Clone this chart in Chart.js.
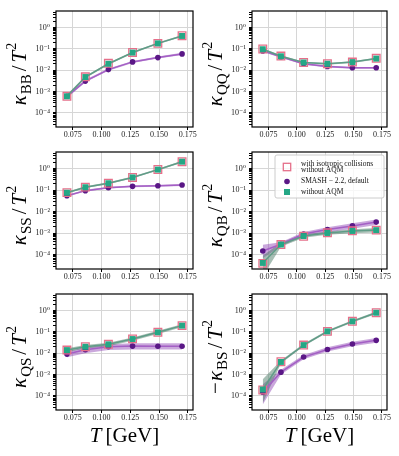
<!DOCTYPE html>
<html>
<head>
<meta charset="utf-8">
<script src="https://cdn.jsdelivr.net/npm/chart.js@4.4.0/dist/chart.umd.min.js"></script>
<style>
  html, body { margin: 0; padding: 0; background: #fff; }
  #wrap { position: relative; width: 399px; height: 456px; overflow: hidden; }
  #wrap canvas { position: absolute; }
</style>
</head>
<body>
<div id="wrap"></div>
<script>
// temperatures (GeV) of the simulation points
const temps = [0.070, 0.086, 0.106, 0.127, 0.149, 0.170];
const xTicks = [0.075, 0.100, 0.125, 0.150, 0.175];
const yTicks = [1e-4, 1e-3, 1e-2, 1e-1, 1];
const yTickLabels = ['10⁻⁴', '10⁻³', '10⁻²', '10⁻¹', '10⁰'];
const seriesNames = ['with isotropic collisions', 'without AQM', 'SMASH − 2.2, default', 'without AQM'];

// kappa_BB / T^2
const bbSmash   = [6.0e-4, 3.1e-3, 0.0107, 0.0245, 0.039, 0.058];
const bbSmashLo = [5.0e-4, 2.7e-3, 0.0095, 0.022, 0.035, 0.052];
const bbSmashHi = [7.2e-4, 3.6e-3, 0.012, 0.027, 0.044, 0.065];
const bbNoAqm   = [6.0e-4, 4.8e-3, 0.020, 0.067, 0.18, 0.40];
const bbNoAqmLo = [5.0e-4, 4.2e-3, 0.018, 0.060, 0.165, 0.37];
const bbNoAqmHi = [7.2e-4, 5.4e-3, 0.022, 0.074, 0.20, 0.44];
const bbIso     = [6.0e-4, 4.9e-3, 0.021, 0.068, 0.18, 0.41];

// kappa_QQ / T^2
const qqSmash   = [0.080, 0.042, 0.020, 0.015, 0.013, 0.013];
const qqSmashLo = [0.072, 0.038, 0.018, 0.0135, 0.0117, 0.0117];
const qqSmashHi = [0.088, 0.046, 0.022, 0.0165, 0.0143, 0.0143];
const qqNoAqm   = [0.096, 0.045, 0.023, 0.020, 0.024, 0.035];
const qqNoAqmLo = [0.087, 0.041, 0.021, 0.018, 0.022, 0.032];
const qqNoAqmHi = [0.106, 0.050, 0.025, 0.022, 0.026, 0.038];
const qqIso     = [0.098, 0.046, 0.023, 0.020, 0.024, 0.036];

// kappa_SS / T^2
const ssSmash   = [0.055, 0.095, 0.13, 0.15, 0.16, 0.175];
const ssSmashLo = [0.050, 0.086, 0.118, 0.136, 0.145, 0.158];
const ssSmashHi = [0.060, 0.104, 0.143, 0.165, 0.176, 0.193];
const ssNoAqm   = [0.076, 0.137, 0.21, 0.39, 0.90, 2.1];
const ssNoAqmLo = [0.069, 0.125, 0.19, 0.355, 0.82, 1.9];
const ssNoAqmHi = [0.084, 0.150, 0.23, 0.43, 0.99, 2.3];
const ssIso     = [0.077, 0.138, 0.21, 0.39, 0.91, 2.1];

// kappa_QB / T^2
const qbSmash   = [1.5e-4, 3.1e-4, 9.3e-4, 1.5e-3, 2.2e-3, 3.3e-3];
const qbSmashLo = [7.0e-5, 2.5e-4, 7.5e-4, 1.1e-3, 1.6e-3, 2.4e-3];
const qbSmashHi = [2.9e-4, 3.8e-4, 1.15e-3, 1.9e-3, 2.9e-3, 4.4e-3];
const qbNoAqm   = [4.2e-5, 3.0e-4, 7.4e-4, 1.03e-3, 1.28e-3, 1.4e-3];
const qbNoAqmLo = [1.0e-5, 2.4e-4, 6.2e-4, 8.5e-4, 1.0e-3, 1.1e-3];
const qbNoAqmHi = [9.0e-5, 3.7e-4, 8.8e-4, 1.2e-3, 1.55e-3, 1.75e-3];
const qbIso     = [4.0e-5, 3.0e-4, 7.3e-4, 1.05e-3, 1.3e-3, 1.4e-3];

// kappa_QS / T^2
const qsSmash   = [0.0091, 0.0145, 0.020, 0.0215, 0.021, 0.021];
const qsSmashLo = [0.0065, 0.010, 0.014, 0.015, 0.015, 0.015];
const qsSmashHi = [0.012, 0.019, 0.026, 0.029, 0.029, 0.029];
const qsNoAqm   = [0.014, 0.020, 0.026, 0.046, 0.095, 0.195];
const qsNoAqmLo = [0.0115, 0.0165, 0.021, 0.038, 0.080, 0.165];
const qsNoAqmHi = [0.017, 0.024, 0.031, 0.055, 0.112, 0.23];
const qsIso     = [0.014, 0.020, 0.026, 0.047, 0.096, 0.195];

// -kappa_BS / T^2
const bsSmash   = [1.5e-4, 1.3e-3, 6.6e-3, 0.015, 0.027, 0.040];
const bsSmashLo = [4.0e-5, 1.0e-3, 5.2e-3, 0.012, 0.021, 0.031];
const bsSmashHi = [3.5e-4, 1.7e-3, 8.3e-3, 0.019, 0.034, 0.051];
const bsNoAqm   = [2.0e-4, 3.9e-3, 0.024, 0.105, 0.31, 0.78];
const bsNoAqmLo = [4.7e-5, 3.3e-3, 0.021, 0.092, 0.27, 0.68];
const bsNoAqmHi = [6.0e-4, 4.6e-3, 0.028, 0.12, 0.35, 0.90];
const bsIso     = [1.9e-4, 4.0e-3, 0.024, 0.105, 0.31, 0.78];

const SERIF = '"Liberation Serif", "DejaVu Serif", serif';
const purpleLine = '#a45fc5', purpleDot = '#5a1786', purpleBand = 'rgba(150,80,185,0.5)';
const greenLine = '#5f9c87', greenDot = '#24a785', greenBand = 'rgba(80,125,105,0.5)';
const pinkEdge = '#e5708a';

function sub(label) {
  return [
    { t: 'κ', it: true, size: 21, gap: 1 },
    { t: label, size: 15, dy: 5, gap: 3 },
    { t: '/', size: 21, gap: 3 },
    { t: 'T', it: true, size: 21, gap: 1 },
    { t: '2', size: 14, dy: -10 }
  ];
}

const panels = [
  { row: 0, col: 0, title: sub('BB'), smash: bbSmash, smashLo: bbSmashLo, smashHi: bbSmashHi, noAqm: bbNoAqm, noAqmLo: bbNoAqmLo, noAqmHi: bbNoAqmHi, iso: bbIso },
  { row: 0, col: 1, title: sub('QQ'), smash: qqSmash, smashLo: qqSmashLo, smashHi: qqSmashHi, noAqm: qqNoAqm, noAqmLo: qqNoAqmLo, noAqmHi: qqNoAqmHi, iso: qqIso },
  { row: 1, col: 0, title: sub('SS'), smash: ssSmash, smashLo: ssSmashLo, smashHi: ssSmashHi, noAqm: ssNoAqm, noAqmLo: ssNoAqmLo, noAqmHi: ssNoAqmHi, iso: ssIso },
  { row: 1, col: 1, title: sub('QB'), legend: true, smash: qbSmash, smashLo: qbSmashLo, smashHi: qbSmashHi, noAqm: qbNoAqm, noAqmLo: qbNoAqmLo, noAqmHi: qbNoAqmHi, iso: qbIso },
  { row: 2, col: 0, title: sub('QS'), smash: qsSmash, smashLo: qsSmashLo, smashHi: qsSmashHi, noAqm: qsNoAqm, noAqmLo: qsNoAqmLo, noAqmHi: qsNoAqmHi, iso: qsIso },
  { row: 2, col: 1, title: [{ t: '−', size: 21, gap: 1 }].concat(sub('BS')), smash: bsSmash, smashLo: bsSmashLo, smashHi: bsSmashHi, noAqm: bsNoAqm, noAqmLo: bsNoAqmLo, noAqmHi: bsNoAqmHi, iso: bsIso }
];

const pts = arr => temps.map((t, i) => ({ x: t, y: arr[i] }));
const runFont = r => (r.it ? 'italic ' : '') + r.size + 'px ' + SERIF;

// draw a row of mixed-style text runs centred on (x, y)
function drawRuns(ctx, runs, x, y, angle) {
  ctx.save();
  ctx.translate(x, y);
  ctx.rotate(angle);
  let total = 0;
  runs.forEach(r => { ctx.font = runFont(r); r.w = ctx.measureText(r.t).width; total += r.w + (r.gap || 0); });
  let cx = -total / 2;
  ctx.fillStyle = '#000';
  ctx.textAlign = 'left';
  ctx.textBaseline = 'alphabetic';
  runs.forEach(r => { ctx.font = runFont(r); ctx.fillText(r.t, cx, r.dy || 0); cx += r.w + (r.gap || 0); });
  ctx.restore();
}

const framePlugin = {
  id: 'frame',
  afterDatasetsDraw(chart) {
    const a = chart.chartArea, ctx = chart.ctx;
    ctx.save();
    ctx.strokeStyle = '#000';
    ctx.lineWidth = 1.2;
    ctx.strokeRect(a.left, a.top, a.right - a.left, a.bottom - a.top);
    ctx.restore();
  }
};

function labelsPlugin(p) {
  return {
    id: 'labels',
    afterDraw(chart) {
      const a = chart.chartArea, ctx = chart.ctx;
      drawRuns(ctx, p.title, a.left - 30, (a.top + a.bottom) / 2 + 5, -Math.PI / 2);
      if (p.row === 2) {
        drawRuns(ctx, [{ t: 'T', it: true, size: 21, gap: 4 }, { t: '[GeV]', size: 21 }], (a.left + a.right) / 2, a.bottom + 32, 0);
      }
      if (p.legend) {
        const bx = a.left + 23, by = a.top + 3, bw = 109, bh = 43;
        ctx.save();
        ctx.fillStyle = 'rgba(255,255,255,0.8)';
        ctx.strokeStyle = '#cccccc';
        ctx.lineWidth = 1;
        ctx.beginPath();
        ctx.roundRect(bx, by, bw, bh, 2);
        ctx.fill();
        ctx.stroke();
        const mx = a.left + 35, tx = a.left + 49;
        // open pink square
        ctx.strokeStyle = pinkEdge;
        ctx.lineWidth = 1.3;
        ctx.strokeRect(mx - 3.7, a.top + 15 - 3.7, 7.4, 7.4);
        // purple dot
        ctx.fillStyle = purpleDot;
        ctx.beginPath();
        ctx.arc(mx, a.top + 29.5, 2.8, 0, Math.PI * 2);
        ctx.fill();
        // green square
        ctx.fillStyle = greenDot;
        ctx.fillRect(mx - 3, a.top + 40 - 3, 6, 6);
        ctx.fillStyle = '#111';
        ctx.font = '7.5px ' + SERIF;
        ctx.textAlign = 'left';
        ctx.textBaseline = 'middle';
        ctx.fillText(seriesNames[0], tx, a.top + 11.8);
        ctx.fillText(seriesNames[1], tx, a.top + 18.5);
        ctx.fillText(seriesNames[2], tx, a.top + 29.5);
        ctx.fillText(seriesNames[3], tx, a.top + 40);
        ctx.restore();
      }
    }
  };
}

function band(hi, lo, color, order) {
  return [
    { data: pts(hi), borderWidth: 0, pointRadius: 0, fill: false, order: order, tension: 0 },
    { data: pts(lo), borderWidth: 0, pointRadius: 0, fill: '-1', backgroundColor: color, order: order, tension: 0 }
  ];
}

const wrap = document.getElementById('wrap');
const rowTop = [0, 141, 283];
const rowHeight = [142, 143, 173];

panels.forEach(p => {
  const cv = document.createElement('canvas');
  const w = p.col === 0 ? 200 : 199;
  const h = rowHeight[p.row];
  cv.width = w; cv.height = h;
  cv.style.width = w + 'px'; cv.style.height = h + 'px';
  cv.style.left = (p.col === 0 ? 0 : 200) + 'px';
  cv.style.top = rowTop[p.row] + 'px';
  wrap.appendChild(cv);

  const datasets = []
    .concat(band(p.smashHi, p.smashLo, purpleBand, 6))
    .concat(band(p.noAqmHi, p.noAqmLo, greenBand, 5))
    .concat([
      { data: pts(p.smash), borderColor: purpleLine, borderWidth: 1.5, pointStyle: 'circle', pointRadius: 2.8,
        pointBackgroundColor: purpleDot, pointBorderWidth: 0, fill: false, order: 4, tension: 0 },
      { data: pts(p.iso), showLine: false, pointStyle: 'rect', pointRadius: 5.4, pointBorderColor: pinkEdge,
        pointBorderWidth: 1.3, pointBackgroundColor: 'rgba(0,0,0,0)', fill: false, order: 3 },
      { data: pts(p.noAqm), borderColor: greenLine, borderWidth: 1.5, pointStyle: 'rect', pointRadius: 4.2,
        pointBackgroundColor: greenDot, pointBorderWidth: 0, fill: false, order: 2, tension: 0 }
    ]);

  new Chart(cv, {
    type: 'line',
    data: { datasets: datasets },
    options: {
      responsive: false,
      animation: false,
      layout: { padding: { top: 11, right: p.col === 0 ? 7 : 12, left: 0, bottom: 0 } },
      plugins: { legend: { display: false }, tooltip: { enabled: false } },
      scales: {
        x: {
          type: 'linear', min: 0.0605, max: 0.1795,
          afterBuildTicks: s => { s.ticks = xTicks.map(v => ({ value: v })); },
          afterFit: s => { s.height = p.row === 2 ? 46 : 15; },
          ticks: { callback: v => v.toFixed(3), font: { family: SERIF, size: 8 }, color: '#222',
                   padding: 0, maxRotation: 0, autoSkip: false },
          grid: { color: '#d6d6d6', tickColor: '#000', tickLength: 3 },
          border: { display: false }
        },
        y: {
          type: 'logarithmic', min: 2.2e-5, max: 5.9,
          afterBuildTicks: s => {
            const t = [];
            [1e-5].concat(yTicks).forEach(b => {
              for (let m = 1; m <= 9; m++) {
                const v = b * m;
                if (v >= s.min && v <= s.max) t.push({ value: v });
              }
            });
            s.ticks = t;
          },
          afterFit: s => { s.width = p.col === 0 ? 56 : 52; },
          ticks: {
            callback: v => { const i = yTicks.indexOf(v); return i >= 0 ? yTickLabels[i] : ''; },
            font: { family: SERIF, size: 8 }, color: '#222', padding: 3, autoSkip: false
          },
          grid: {
            color: c => (c.tick && yTicks.indexOf(c.tick.value) >= 0) ? '#d6d6d6' : 'rgba(0,0,0,0)',
            tickColor: '#000', tickLength: 3
          },
          border: { display: false }
        }
      }
    },
    plugins: [framePlugin, labelsPlugin(p)]
  });
});
</script>
</body>
</html>
